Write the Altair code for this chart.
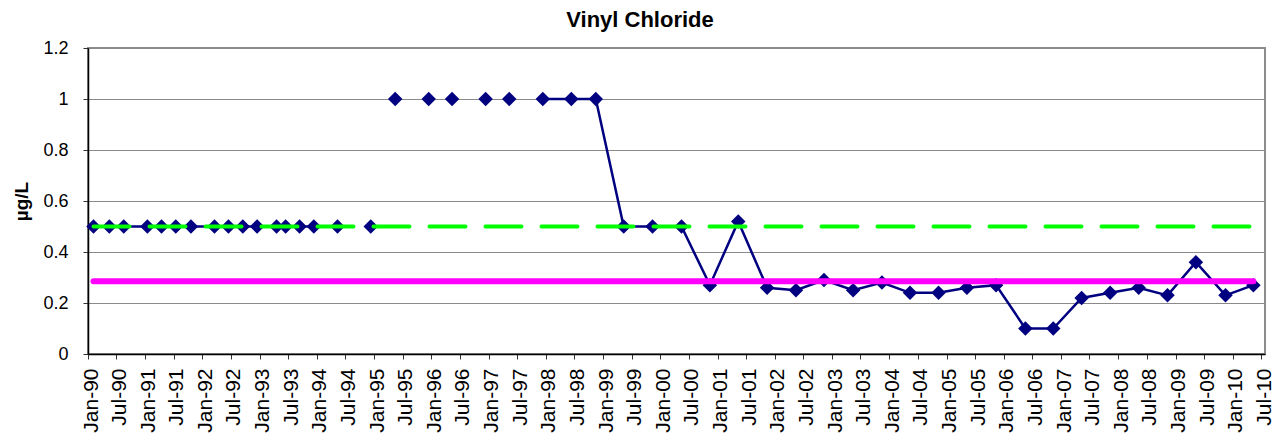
import altair as alt
import pandas as pd

# Sampling dates and vinyl chloride results (µg/L); None marks a blank row,
# which breaks the connecting line.
sample_dates = [
    "1990-02-05", "1990-05-17", "1990-08-17", "1991-01-15", "1991-04-15",
    "1991-07-15", "1991-10-20", "1992-03-18", "1992-06-15", "1992-09-15",
    "1992-12-15", "1993-04-18", "1993-06-15", "1993-09-12", "1993-12-12",
    "1994-05-12", None, "1994-12-10", None, "1995-05-15", None,
    "1995-12-15", None, "1996-05-12", None, "1996-12-12", None,
    "1997-05-12", None, "1997-12-12", "1998-06-12", "1998-11-15",
    "1999-05-12", "1999-11-12", "2000-05-15", "2000-11-12", "2001-05-12",
    "2001-11-12", "2002-05-15", "2002-11-10", "2003-05-15", "2003-11-15",
    "2004-05-12", "2004-11-10", "2005-05-10", "2005-11-12", "2006-05-18",
    "2006-11-12", "2007-05-12", "2007-11-10", "2008-05-10", "2008-11-10",
    "2009-05-10", "2009-11-15", "2010-05-12",
]
vinyl_chloride = [
    0.5, 0.5, 0.5, 0.5, 0.5,
    0.5, 0.5, 0.5, 0.5, 0.5,
    0.5, 0.5, 0.5, 0.5, 0.5,
    0.5, None, 0.5, None, 1.0, None,
    1.0, None, 1.0, None, 1.0, None,
    1.0, None, 1.0, 1.0, 1.0,
    0.5, 0.5, 0.5, 0.27, 0.52,
    0.26, 0.25, 0.29, 0.25, 0.28,
    0.24, 0.24, 0.26, 0.27, 0.10,
    0.10, 0.22, 0.24, 0.26, 0.23,
    0.36, 0.23, 0.27,
]

# Horizontal reference levels (µg/L)
dashed_level = 0.5
solid_level = 0.285

# Axis ticks
y_ticks = [0, 0.2, 0.4, 0.6, 0.8, 1.0, 1.2]
x_ticks = [
    alt.DateTime(year=yr, month=m, date=1, utc=True)
    for yr in range(1990, 2011)
    for m in (1, 7)
]
x_domain = ["1990-01-01", "2010-07-25"]

# Split the series into runs at blank rows
rows, run = [], 0
for d, v in zip(sample_dates, vinyl_chloride):
    if v is None:
        run += 1
        continue
    rows.append({"date": d, "value": v, "run": run})
df = pd.DataFrame(rows)

first, last = df["date"].iloc[0], df["date"].iloc[-1]
dashed_df = pd.DataFrame({"date": [first], "date_end": [last], "value": [dashed_level]})
solid_df = pd.DataFrame({"date": [first], "date_end": [last], "value": [solid_level]})

x_axis = alt.Axis(
    values=x_ticks, labelExpr="utcFormat(datum.value, '%b-%y')", title=None,
    labelAngle=270, labelFontSize=21, labelPadding=9, labelOffset=3,
    tickSize=5, grid=False, labelOverlap=False, labelFont="Liberation Sans",
    labelColor="#000", domainColor="#000", domainWidth=1.5, tickColor="#333",
)
y_axis = alt.Axis(
    values=y_ticks, format=".1~f", title="µg/L",
    labelFontSize=18, labelPadding=15, tickSize=5, labelFont="Liberation Sans",
    labelColor="#000", domainColor="#000", domainWidth=1.5, tickColor="#333",
    titleFont="Liberation Sans", titleFontSize=19, titleFontWeight="bold",
    titleColor="#000", titleAngle=270, titleX=-67, titleY=153,
    titleAlign="center", titleBaseline="middle",
    grid=True, gridColor="#8a8a8a", gridWidth=1,
)
x_scale = alt.Scale(type="utc", domain=x_domain)
y_scale = alt.Scale(domain=[0, 1.2], nice=False, zero=True)

x_enc = alt.X("date:T", scale=x_scale, axis=x_axis)
y_enc = alt.Y("value:Q", scale=y_scale, axis=y_axis)

navy = "#000080"
line = alt.Chart(df).mark_line(color=navy, strokeWidth=2.5).encode(
    x=x_enc, y=y_enc, detail="run:N"
)
points = alt.Chart(df).mark_point(
    shape="diamond", filled=True, size=210, color=navy, opacity=1
).encode(x=x_enc, y=y_enc)

green = alt.Chart(dashed_df).mark_rule(
    color="#00ff00", strokeWidth=4, strokeDash=[36, 20], strokeCap="round"
).encode(x=x_enc, x2="date_end:T", y=y_enc)

magenta = alt.Chart(solid_df).mark_rule(
    color="#ff00ff", strokeWidth=6, strokeCap="round"
).encode(x=x_enc, x2="date_end:T", y=y_enc)

# Chart heading, centred over the full canvas
heading = alt.Chart(pd.DataFrame({"text": ["Vinyl Chloride"]})).mark_text(
    font="Liberation Sans", fontSize=22, fontWeight="bold", color="#000",
    align="center", baseline="middle",
).encode(text="text:N", x=alt.value(552), y=alt.value(-28))

chart = (
    alt.layer(line, points, green, magenta, heading)
    .properties(
        width=1177,
        height=306,
        padding={"left": 88, "top": 48, "right": 16, "bottom": 81},
        autosize=alt.AutoSizeParams(type="none"),
    )
    .configure(font="Liberation Sans")
    .configure_view(stroke="#8c8c8c", strokeWidth=2)
)

chart.save("out.html", embed_options={"renderer": "svg", "actions": False})
